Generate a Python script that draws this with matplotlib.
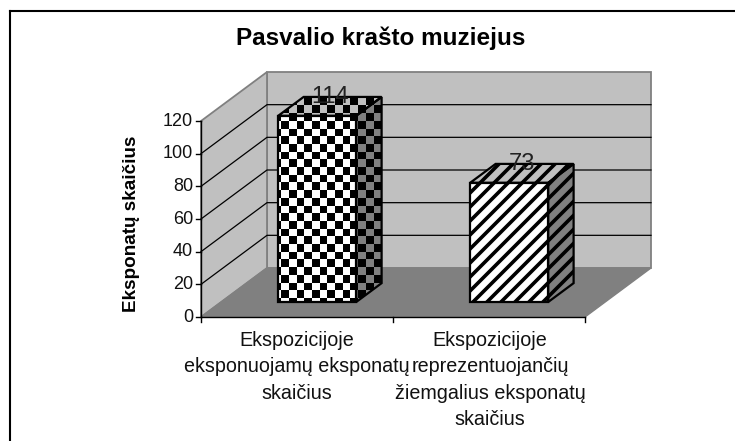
import numpy as np
import matplotlib
matplotlib.use('Agg')
import matplotlib.pyplot as plt
from matplotlib.lines import Line2D
from matplotlib.patches import Polygon, Rectangle

plt.rcParams['font.family'] = ['Liberation Sans', 'DejaVu Sans']

# duomenys
categories = ['Ekspozicijoje\neksponuojamų eksponatų\nskaičius',
              'Ekspozicijoje\nreprezentuojančių\nžiemgalius eksponatų\nskaičius']
values = [114, 73]
y_ticks = [0, 20, 40, 60, 80, 100, 120]
title = 'Pasvalio krašto muziejus'
y_label = 'Eksponatų skaičius'

W, H = 735, 441
fig = plt.figure(figsize=(W / 100, H / 100), dpi=100)

# asys: nuo 201 iki 585 px, 0 ties 317, 120 ties 121
ax = fig.add_axes([201 / W, 1 - 317 / H, 384 / W, 196 / H])
ax.set_xlim(0, 2)
ax.set_ylim(0, 120)
ax.axis('off')

# pikseliai vienam duomenu vienetui
ux = 192.0
uy = 196 / 120

# gylis (3D poslinkis) duomenu vienetais
dep_x = 66 / ux
dep_y = 30.0
bar_w = 78 / ux
bar_front = 0.306
bar_depth = 0.385


def proj(x, y, d):
    return (x + d * dep_x, y + d * dep_y)


def poly(points, **kw):
    p = Polygon(points, closed=True, clip_on=False, **kw)
    ax.add_patch(p)
    return p


# sienos ir grindys
poly([proj(0, 0, 1), proj(2, 0, 1), proj(2, 120, 1), proj(0, 120, 1)],
     facecolor='#c0c0c0', edgecolor='#808080', lw=1.3, zorder=1)
poly([proj(0, 0, 0), proj(0, 0, 1), proj(0, 120, 1), proj(0, 120, 0)],
     facecolor='#c0c0c0', edgecolor='#808080', lw=1.3, zorder=1)
poly([proj(0, 0, 0), proj(2, 0, 0), proj(2, 0, 1), proj(0, 0, 1)],
     facecolor='#808080', edgecolor='#808080', lw=1, zorder=2)

# tinklelis
for t in y_ticks[1:-1]:
    xs = [proj(0, t, 0)[0], proj(0, t, 1)[0], proj(2, t, 1)[0]]
    ys = [proj(0, t, 0)[1], proj(0, t, 1)[1], proj(2, t, 1)[1]]
    ax.plot(xs, ys, color='black', lw=0.9, clip_on=False, zorder=3)

# asys ir padalos
ax.plot([0, 0], [0, 120], color='black', lw=1, clip_on=False, zorder=4)
ax.plot([0, 2], [0, 0], color='black', lw=1, clip_on=False, zorder=4)
for t in y_ticks:
    ax.plot([-5 / ux, 0], [t, t], color='black', lw=1, clip_on=False, zorder=4)
    ax.text(-8 / ux, t, str(t), ha='right', va='center', fontsize=13, color='#111111')
for c in range(3):
    ax.plot([c, c], [0, -3], color='black', lw=1, clip_on=False, zorder=4)


def checker(clip, ox, oy):
    # languotas rastas, visiems sonams tas pats tinklelis
    size = 7.7
    for i in range(-2, 16):
        for j in range(-6, 34):
            if (i + j) % 2 == 0:
                r = Rectangle((ox + i * size / ux, oy - (j + 1) * size / uy), size / ux, size / uy,
                              facecolor='black', edgecolor='none', zorder=5)
                ax.add_patch(r)
                r.set_clip_box(None)
                r.set_clip_path(clip)


def stripes(clip, ox, oy):
    # istrizos juostos
    gap = 14.0
    for k in np.arange(-260, 160, gap):
        l, = ax.plot([ox + k / ux, ox + (k + 240) / ux], [oy - 150 / uy, oy + 90 / uy],
                     color='black', lw=2.6, solid_capstyle='butt', zorder=5)
        l.set_clip_box(None)
        l.set_clip_path(clip)


pattern = [checker, stripes]

# stulpeliai
for i, v in enumerate(values):
    xa = i + 0.5 - bar_w / 2
    xb = i + 0.5 + bar_w / 2
    d0, d1 = bar_front, bar_front + bar_depth
    faces = [
        ([proj(xa, 0, d0), proj(xb, 0, d0), proj(xb, v, d0), proj(xa, v, d0)], 'white'),
        ([proj(xb, 0, d0), proj(xb, 0, d1), proj(xb, v, d1), proj(xb, v, d0)], '#808080'),
        ([proj(xa, v, d0), proj(xb, v, d0), proj(xb, v, d1), proj(xa, v, d1)], '#c0c0c0'),
    ]
    ox, oy = proj(xa, v, d0)
    for pts, col in faces:
        base = poly(pts, facecolor=col, edgecolor='none', zorder=5)
        pattern[i](base, ox + 3 / ux, oy - 5 / uy)
    for pts, col in faces:
        poly(pts, facecolor='none', edgecolor='black', lw=1.6, zorder=6, joinstyle='miter')
    # skaicius virs stulpelio
    tx = proj(i + 0.5, v, bar_front + bar_depth / 2)[0]
    ty = proj(i + 0.5, v, d1)[1]
    ax.text(tx, ty, str(v), ha='center', va='center', fontsize=17,
            color='#222222', zorder=7, clip_on=False)

# kategoriju uzrasai
fig.text(297 / W, 1 - 331 / H, categories[0], ha='center', va='top', fontsize=14.2,
         linespacing=1.49, color='#111111')
fig.text(490 / W, 1 - 331 / H, categories[1], ha='center', va='top', fontsize=14.2,
         linespacing=1.49, color='#111111')

fig.text(381 / W, 1 - 38 / H, title, ha='center', va='center', fontsize=17.5, fontweight='bold')
fig.text(131 / W, 1 - 223.5 / H, y_label, ha='center', va='center', rotation=90,
         fontsize=13.6, fontweight='bold')

# isorinis remelis (matosi tik virsus ir kaire)
fig.add_artist(Line2D([10 / W, 1], [1 - 11 / H, 1 - 11 / H], color='black', lw=1.5))
fig.add_artist(Line2D([10 / W, 10 / W], [1 - 11 / H, 0], color='black', lw=1.5))

fig.savefig('out.png', dpi=100)
